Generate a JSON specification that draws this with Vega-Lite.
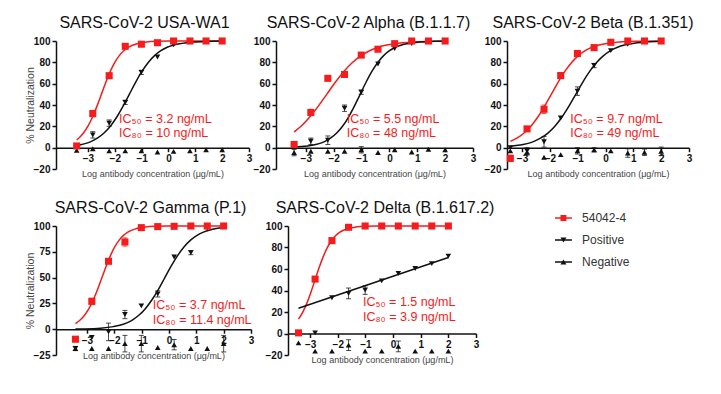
{
"$schema":"https://vega.github.io/schema/vega-lite/v6.json",
"padding":{"left":24,"top":15,"right":5,"bottom":5},
"config":{
 "view":{"stroke":null},
 "font":"Liberation Sans",
 "axis":{"grid":false,"domainColor":"#111","domainWidth":1.5,"tickColor":"#111","tickWidth":1.5,"tickSize":4,"labelFont":"Liberation Sans","labelFontSize":10,"labelFontWeight":"bold","labelColor":"#111","labelOverlap":false,"labelFlush":false,"titleFont":"Liberation Sans","titleFontWeight":"normal","titleColor":"#444"},
 "axisX":{"titleFontSize":9,"titlePadding":6,"labelPadding":2},
 "axisY":{"titleFontSize":10.5,"titleX":-21,"labelPadding":2},
 "title":{"font":"Liberation Sans","fontSize":16,"fontWeight":"normal","color":"#111","offset":5,"baseline":"alphabetic"}
},
"datasets":{
 "leg":[{"s":"54042-4"},{"s":"Positive"},{"s":"Negative"}],
 "pts":[
  {"p":"WA1","s":"54042-4","x":-3.42,"y":1.6},{"p":"WA1","s":"54042-4","x":-2.82,"y":32,"lo":29,"hi":35},{"p":"WA1","s":"54042-4","x":-2.21,"y":67.5},{"p":"WA1","s":"54042-4","x":-1.61,"y":95},{"p":"WA1","s":"54042-4","x":-1.01,"y":97},{"p":"WA1","s":"54042-4","x":-0.41,"y":98.4},{"p":"WA1","s":"54042-4","x":0.19,"y":100},{"p":"WA1","s":"54042-4","x":0.8,"y":100},{"p":"WA1","s":"54042-4","x":1.4,"y":100},{"p":"WA1","s":"54042-4","x":2.0,"y":100},
  {"p":"WA1","s":"Positive","x":-3.42,"y":1},{"p":"WA1","s":"Positive","x":-2.82,"y":12,"lo":9,"hi":15},{"p":"WA1","s":"Positive","x":-2.21,"y":23,"lo":20,"hi":26},{"p":"WA1","s":"Positive","x":-1.61,"y":42.5,"lo":40.5,"hi":44.5},{"p":"WA1","s":"Positive","x":-1.01,"y":70.6,"lo":68.6,"hi":72.6},{"p":"WA1","s":"Positive","x":-0.41,"y":85},{"p":"WA1","s":"Positive","x":0.19,"y":96.5},{"p":"WA1","s":"Positive","x":0.8,"y":99},{"p":"WA1","s":"Positive","x":1.4,"y":100},{"p":"WA1","s":"Positive","x":2.0,"y":100},
  {"p":"WA1","s":"Negative","x":-3.42,"y":-2.5},{"p":"WA1","s":"Negative","x":-2.82,"y":-1},{"p":"WA1","s":"Negative","x":-2.21,"y":-3},{"p":"WA1","s":"Negative","x":-1.61,"y":-3},{"p":"WA1","s":"Negative","x":-1.01,"y":-3},{"p":"WA1","s":"Negative","x":-0.41,"y":-4},{"p":"WA1","s":"Negative","x":0.19,"y":-3.5},{"p":"WA1","s":"Negative","x":0.8,"y":-3},{"p":"WA1","s":"Negative","x":1.4,"y":-2},{"p":"WA1","s":"Negative","x":2.0,"y":-2},

  {"p":"Alpha","s":"54042-4","x":-3.42,"y":3},{"p":"Alpha","s":"54042-4","x":-2.82,"y":33,"lo":30,"hi":36},{"p":"Alpha","s":"54042-4","x":-2.21,"y":65},{"p":"Alpha","s":"54042-4","x":-1.61,"y":68.6},{"p":"Alpha","s":"54042-4","x":-1.01,"y":86.8},{"p":"Alpha","s":"54042-4","x":-0.41,"y":92.3},{"p":"Alpha","s":"54042-4","x":0.19,"y":97.5},{"p":"Alpha","s":"54042-4","x":0.8,"y":100},{"p":"Alpha","s":"54042-4","x":1.4,"y":100},{"p":"Alpha","s":"54042-4","x":2.0,"y":100},
  {"p":"Alpha","s":"Positive","x":-3.42,"y":0.5},{"p":"Alpha","s":"Positive","x":-2.82,"y":6,"lo":3,"hi":9},{"p":"Alpha","s":"Positive","x":-2.21,"y":7,"lo":3,"hi":11},{"p":"Alpha","s":"Positive","x":-1.61,"y":37,"lo":34,"hi":40},{"p":"Alpha","s":"Positive","x":-1.01,"y":52,"lo":50,"hi":54},{"p":"Alpha","s":"Positive","x":-0.41,"y":78.5},{"p":"Alpha","s":"Positive","x":0.19,"y":93},{"p":"Alpha","s":"Positive","x":0.8,"y":97.5},{"p":"Alpha","s":"Positive","x":1.4,"y":100},{"p":"Alpha","s":"Positive","x":2.0,"y":100},
  {"p":"Alpha","s":"Negative","x":-3.42,"y":-4.6,"lo":-7.6,"hi":-1.6},{"p":"Alpha","s":"Negative","x":-2.82,"y":-3.4},{"p":"Alpha","s":"Negative","x":-2.21,"y":-3.4},{"p":"Alpha","s":"Negative","x":-1.61,"y":-3.4},{"p":"Alpha","s":"Negative","x":-1.01,"y":-2,"lo":-5,"hi":1},{"p":"Alpha","s":"Negative","x":-0.41,"y":-4.6},{"p":"Alpha","s":"Negative","x":0.19,"y":-2},{"p":"Alpha","s":"Negative","x":0.8,"y":-4},{"p":"Alpha","s":"Negative","x":1.4,"y":-1.5},{"p":"Alpha","s":"Negative","x":2.0,"y":-2},

  {"p":"Beta","s":"54042-4","x":-3.42,"y":-10,"lo":-13,"hi":-7},{"p":"Beta","s":"54042-4","x":-2.82,"y":17.6},{"p":"Beta","s":"54042-4","x":-2.21,"y":36,"lo":32,"hi":40},{"p":"Beta","s":"54042-4","x":-1.61,"y":67.6,"lo":65.6,"hi":69.6},{"p":"Beta","s":"54042-4","x":-1.01,"y":88.3},{"p":"Beta","s":"54042-4","x":-0.41,"y":93.8},{"p":"Beta","s":"54042-4","x":0.19,"y":98.8},{"p":"Beta","s":"54042-4","x":0.8,"y":100},{"p":"Beta","s":"54042-4","x":1.4,"y":100},{"p":"Beta","s":"54042-4","x":2.0,"y":100},
  {"p":"Beta","s":"Positive","x":-3.42,"y":0},{"p":"Beta","s":"Positive","x":-2.82,"y":-3,"lo":-6,"hi":0},{"p":"Beta","s":"Positive","x":-2.21,"y":5.5,"lo":0.5,"hi":10.5},{"p":"Beta","s":"Positive","x":-1.61,"y":27.8},{"p":"Beta","s":"Positive","x":-1.01,"y":53,"lo":49,"hi":57},{"p":"Beta","s":"Positive","x":-0.41,"y":77,"lo":75,"hi":79},{"p":"Beta","s":"Positive","x":0.19,"y":91},{"p":"Beta","s":"Positive","x":0.8,"y":97},{"p":"Beta","s":"Positive","x":1.4,"y":99.5},{"p":"Beta","s":"Positive","x":2.0,"y":100},
  {"p":"Beta","s":"Negative","x":-3.42,"y":-3},{"p":"Beta","s":"Negative","x":-2.82,"y":-4,"lo":-7,"hi":-1},{"p":"Beta","s":"Negative","x":-2.21,"y":-9},{"p":"Beta","s":"Negative","x":-1.61,"y":-6.5},{"p":"Beta","s":"Negative","x":-1.01,"y":-3,"lo":-6,"hi":0},{"p":"Beta","s":"Negative","x":-0.41,"y":-2,"lo":-4,"hi":0},{"p":"Beta","s":"Negative","x":0.19,"y":-3},{"p":"Beta","s":"Negative","x":0.8,"y":-5,"lo":-9,"hi":-1},{"p":"Beta","s":"Negative","x":1.4,"y":-4.3,"lo":-7.3,"hi":-1.3},{"p":"Beta","s":"Negative","x":2.0,"y":-3.4,"lo":-7.4,"hi":0.6},

  {"p":"Gamma","s":"54042-4","x":-3.42,"y":-9.7},{"p":"Gamma","s":"54042-4","x":-2.82,"y":27,"lo":24,"hi":30},{"p":"Gamma","s":"54042-4","x":-2.21,"y":65.8},{"p":"Gamma","s":"54042-4","x":-1.61,"y":84.5,"lo":80.5,"hi":88.5},{"p":"Gamma","s":"54042-4","x":-1.01,"y":98.4},{"p":"Gamma","s":"54042-4","x":-0.41,"y":99.4},{"p":"Gamma","s":"54042-4","x":0.19,"y":99.7},{"p":"Gamma","s":"54042-4","x":0.8,"y":100},{"p":"Gamma","s":"54042-4","x":1.4,"y":100},{"p":"Gamma","s":"54042-4","x":2.0,"y":100},
  {"p":"Gamma","s":"Positive","x":-3.42,"y":-18.7,"lo":-20.7,"hi":-16.7},{"p":"Gamma","s":"Positive","x":-2.82,"y":-8},{"p":"Gamma","s":"Positive","x":-2.21,"y":-2.6,"lo":-11.1,"hi":5.9},{"p":"Gamma","s":"Positive","x":-1.61,"y":14.2,"lo":10.2,"hi":18.2},{"p":"Gamma","s":"Positive","x":-1.01,"y":22.6},{"p":"Gamma","s":"Positive","x":-0.41,"y":34.2,"lo":31.2,"hi":37.2},{"p":"Gamma","s":"Positive","x":0.19,"y":70},{"p":"Gamma","s":"Positive","x":0.8,"y":74.2,"lo":72.2,"hi":76.2},{"p":"Gamma","s":"Positive","x":1.4,"y":98},{"p":"Gamma","s":"Positive","x":2.0,"y":99},
  {"p":"Gamma","s":"Negative","x":-3.42,"y":-18.7,"lo":-20.7,"hi":-16.7},{"p":"Gamma","s":"Negative","x":-2.82,"y":-18.7},{"p":"Gamma","s":"Negative","x":-2.21,"y":-18.7},{"p":"Gamma","s":"Negative","x":-1.61,"y":-14,"lo":-22,"hi":-6},{"p":"Gamma","s":"Negative","x":-1.01,"y":-14,"lo":-22,"hi":-6},{"p":"Gamma","s":"Negative","x":-0.41,"y":-17.8},{"p":"Gamma","s":"Negative","x":0.19,"y":-15,"lo":-20,"hi":-10},{"p":"Gamma","s":"Negative","x":0.8,"y":-18.7},{"p":"Gamma","s":"Negative","x":1.4,"y":-18.7},{"p":"Gamma","s":"Negative","x":2.0,"y":-14,"lo":-22,"hi":-6},

  {"p":"Delta","s":"54042-4","x":-3.42,"y":0.6},{"p":"Delta","s":"54042-4","x":-2.82,"y":50.6},{"p":"Delta","s":"54042-4","x":-2.21,"y":86.4},{"p":"Delta","s":"54042-4","x":-1.61,"y":98.8},{"p":"Delta","s":"54042-4","x":-1.01,"y":100},{"p":"Delta","s":"54042-4","x":-0.41,"y":100},{"p":"Delta","s":"54042-4","x":0.19,"y":100},{"p":"Delta","s":"54042-4","x":0.8,"y":100},{"p":"Delta","s":"54042-4","x":1.4,"y":100},{"p":"Delta","s":"54042-4","x":2.0,"y":100},
  {"p":"Delta","s":"Positive","x":-3.42,"y":0.6},{"p":"Delta","s":"Positive","x":-2.82,"y":0.6},{"p":"Delta","s":"Positive","x":-2.21,"y":33.3},{"p":"Delta","s":"Positive","x":-1.61,"y":37.3,"lo":32.3,"hi":42.3},{"p":"Delta","s":"Positive","x":-1.01,"y":40.4,"lo":36.4,"hi":44.4},{"p":"Delta","s":"Positive","x":-0.41,"y":49},{"p":"Delta","s":"Positive","x":0.19,"y":55.9},{"p":"Delta","s":"Positive","x":0.8,"y":60.5},{"p":"Delta","s":"Positive","x":1.4,"y":65},{"p":"Delta","s":"Positive","x":2.0,"y":72},
  {"p":"Delta","s":"Negative","x":-3.42,"y":-8.7},{"p":"Delta","s":"Negative","x":-2.82,"y":-16.4},{"p":"Delta","s":"Negative","x":-2.21,"y":-16.4},{"p":"Delta","s":"Negative","x":-1.61,"y":-10.8,"lo":-15.8,"hi":-5.8},{"p":"Delta","s":"Negative","x":-1.01,"y":-16.4},{"p":"Delta","s":"Negative","x":-0.41,"y":-16.4},{"p":"Delta","s":"Negative","x":0.19,"y":-12,"lo":-17,"hi":-7},{"p":"Delta","s":"Negative","x":0.8,"y":-16.4},{"p":"Delta","s":"Negative","x":1.4,"y":-16.4},{"p":"Delta","s":"Negative","x":2.0,"y":-16.4}
 ],
 "fit":[
  {"p":"WA1","s":"54042-4","x":-3.42,"y":7.3},{"p":"WA1","s":"54042-4","x":-3.333,"y":9.1},{"p":"WA1","s":"54042-4","x":-3.167,"y":13.7},{"p":"WA1","s":"54042-4","x":-3.0,"y":20.1},{"p":"WA1","s":"54042-4","x":-2.833,"y":28.5},{"p":"WA1","s":"54042-4","x":-2.667,"y":38.7},{"p":"WA1","s":"54042-4","x":-2.5,"y":50},{"p":"WA1","s":"54042-4","x":-2.333,"y":61.3},{"p":"WA1","s":"54042-4","x":-2.167,"y":71.5},{"p":"WA1","s":"54042-4","x":-2.0,"y":79.9},{"p":"WA1","s":"54042-4","x":-1.833,"y":86.3},{"p":"WA1","s":"54042-4","x":-1.667,"y":90.9},{"p":"WA1","s":"54042-4","x":-1.5,"y":94.1},{"p":"WA1","s":"54042-4","x":-1.167,"y":97.5},{"p":"WA1","s":"54042-4","x":-0.833,"y":99.0},{"p":"WA1","s":"54042-4","x":-0.417,"y":99.7},{"p":"WA1","s":"54042-4","x":0,"y":99.9},{"p":"WA1","s":"54042-4","x":2,"y":100},
  {"p":"WA1","s":"Positive","x":-3.42,"y":2.1},{"p":"WA1","s":"Positive","x":-3.342,"y":2.5},{"p":"WA1","s":"Positive","x":-3.107,"y":3.8},{"p":"WA1","s":"Positive","x":-2.872,"y":5.9},{"p":"WA1","s":"Positive","x":-2.636,"y":9.1},{"p":"WA1","s":"Positive","x":-2.401,"y":13.7},{"p":"WA1","s":"Positive","x":-2.166,"y":20.1},{"p":"WA1","s":"Positive","x":-1.931,"y":28.5},{"p":"WA1","s":"Positive","x":-1.695,"y":38.7},{"p":"WA1","s":"Positive","x":-1.46,"y":50},{"p":"WA1","s":"Positive","x":-1.225,"y":61.3},{"p":"WA1","s":"Positive","x":-0.989,"y":71.5},{"p":"WA1","s":"Positive","x":-0.754,"y":79.9},{"p":"WA1","s":"Positive","x":-0.519,"y":86.3},{"p":"WA1","s":"Positive","x":-0.284,"y":90.9},{"p":"WA1","s":"Positive","x":-0.048,"y":94.1},{"p":"WA1","s":"Positive","x":0.422,"y":97.5},{"p":"WA1","s":"Positive","x":0.893,"y":99.0},{"p":"WA1","s":"Positive","x":1.481,"y":99.7},{"p":"WA1","s":"Positive","x":2,"y":99.9},

  {"p":"Alpha","s":"54042-4","x":-3.42,"y":14.8},{"p":"Alpha","s":"54042-4","x":-3.173,"y":20.1},{"p":"Alpha","s":"54042-4","x":-2.865,"y":28.5},{"p":"Alpha","s":"54042-4","x":-2.558,"y":38.7},{"p":"Alpha","s":"54042-4","x":-2.25,"y":50},{"p":"Alpha","s":"54042-4","x":-1.942,"y":61.3},{"p":"Alpha","s":"54042-4","x":-1.635,"y":71.5},{"p":"Alpha","s":"54042-4","x":-1.327,"y":79.9},{"p":"Alpha","s":"54042-4","x":-1.019,"y":86.3},{"p":"Alpha","s":"54042-4","x":-0.712,"y":90.9},{"p":"Alpha","s":"54042-4","x":-0.404,"y":94.1},{"p":"Alpha","s":"54042-4","x":-0.096,"y":96.2},{"p":"Alpha","s":"54042-4","x":0.212,"y":97.5},{"p":"Alpha","s":"54042-4","x":0.827,"y":99.0},{"p":"Alpha","s":"54042-4","x":1.596,"y":99.7},{"p":"Alpha","s":"54042-4","x":2,"y":99.8},
  {"p":"Alpha","s":"Positive","x":-3.42,"y":0.6},{"p":"Alpha","s":"Positive","x":-3.155,"y":1.0},{"p":"Alpha","s":"Positive","x":-2.734,"y":2.5},{"p":"Alpha","s":"Positive","x":-2.524,"y":3.8},{"p":"Alpha","s":"Positive","x":-2.313,"y":5.9},{"p":"Alpha","s":"Positive","x":-2.103,"y":9.1},{"p":"Alpha","s":"Positive","x":-1.892,"y":13.7},{"p":"Alpha","s":"Positive","x":-1.682,"y":20.1},{"p":"Alpha","s":"Positive","x":-1.471,"y":28.5},{"p":"Alpha","s":"Positive","x":-1.261,"y":38.7},{"p":"Alpha","s":"Positive","x":-1.05,"y":50},{"p":"Alpha","s":"Positive","x":-0.839,"y":61.3},{"p":"Alpha","s":"Positive","x":-0.629,"y":71.5},{"p":"Alpha","s":"Positive","x":-0.418,"y":79.9},{"p":"Alpha","s":"Positive","x":-0.208,"y":86.3},{"p":"Alpha","s":"Positive","x":0.003,"y":90.9},{"p":"Alpha","s":"Positive","x":0.213,"y":94.1},{"p":"Alpha","s":"Positive","x":0.634,"y":97.5},{"p":"Alpha","s":"Positive","x":1.055,"y":99.0},{"p":"Alpha","s":"Positive","x":1.582,"y":99.7},{"p":"Alpha","s":"Positive","x":2,"y":99.9},

  {"p":"Beta","s":"54042-4","x":-3.42,"y":5.9},{"p":"Beta","s":"54042-4","x":-3.17,"y":9.1},{"p":"Beta","s":"54042-4","x":-2.926,"y":13.7},{"p":"Beta","s":"54042-4","x":-2.682,"y":20.1},{"p":"Beta","s":"54042-4","x":-2.438,"y":28.5},{"p":"Beta","s":"54042-4","x":-2.194,"y":38.7},{"p":"Beta","s":"54042-4","x":-1.95,"y":50},{"p":"Beta","s":"54042-4","x":-1.706,"y":61.3},{"p":"Beta","s":"54042-4","x":-1.462,"y":71.5},{"p":"Beta","s":"54042-4","x":-1.218,"y":79.9},{"p":"Beta","s":"54042-4","x":-0.974,"y":86.3},{"p":"Beta","s":"54042-4","x":-0.73,"y":90.9},{"p":"Beta","s":"54042-4","x":-0.487,"y":94.1},{"p":"Beta","s":"54042-4","x":-0.243,"y":96.2},{"p":"Beta","s":"54042-4","x":0.001,"y":97.5},{"p":"Beta","s":"54042-4","x":0.489,"y":99.0},{"p":"Beta","s":"54042-4","x":1.099,"y":99.7},{"p":"Beta","s":"54042-4","x":2,"y":99.9},
  {"p":"Beta","s":"Positive","x":-3.42,"y":1.3},{"p":"Beta","s":"Positive","x":-3.07,"y":2.5},{"p":"Beta","s":"Positive","x":-2.82,"y":3.8},{"p":"Beta","s":"Positive","x":-2.57,"y":5.9},{"p":"Beta","s":"Positive","x":-2.32,"y":9.1},{"p":"Beta","s":"Positive","x":-2.07,"y":13.7},{"p":"Beta","s":"Positive","x":-1.82,"y":20.1},{"p":"Beta","s":"Positive","x":-1.57,"y":28.5},{"p":"Beta","s":"Positive","x":-1.32,"y":38.7},{"p":"Beta","s":"Positive","x":-1.07,"y":50},{"p":"Beta","s":"Positive","x":-0.82,"y":61.3},{"p":"Beta","s":"Positive","x":-0.57,"y":71.5},{"p":"Beta","s":"Positive","x":-0.32,"y":79.9},{"p":"Beta","s":"Positive","x":-0.07,"y":86.3},{"p":"Beta","s":"Positive","x":0.18,"y":90.9},{"p":"Beta","s":"Positive","x":0.43,"y":94.1},{"p":"Beta","s":"Positive","x":0.68,"y":96.2},{"p":"Beta","s":"Positive","x":0.93,"y":97.5},{"p":"Beta","s":"Positive","x":1.43,"y":99.0},{"p":"Beta","s":"Positive","x":2,"y":99.7},

  {"p":"Gamma","s":"54042-4","x":-3.42,"y":5.5},{"p":"Gamma","s":"54042-4","x":-3.237,"y":9.1},{"p":"Gamma","s":"54042-4","x":-3.08,"y":13.7},{"p":"Gamma","s":"54042-4","x":-2.922,"y":20.1},{"p":"Gamma","s":"54042-4","x":-2.765,"y":28.5},{"p":"Gamma","s":"54042-4","x":-2.607,"y":38.7},{"p":"Gamma","s":"54042-4","x":-2.45,"y":50},{"p":"Gamma","s":"54042-4","x":-2.293,"y":61.3},{"p":"Gamma","s":"54042-4","x":-2.135,"y":71.5},{"p":"Gamma","s":"54042-4","x":-1.978,"y":79.9},{"p":"Gamma","s":"54042-4","x":-1.82,"y":86.3},{"p":"Gamma","s":"54042-4","x":-1.663,"y":90.9},{"p":"Gamma","s":"54042-4","x":-1.505,"y":94.1},{"p":"Gamma","s":"54042-4","x":-1.19,"y":97.5},{"p":"Gamma","s":"54042-4","x":-0.875,"y":99.0},{"p":"Gamma","s":"54042-4","x":-0.481,"y":99.7},{"p":"Gamma","s":"54042-4","x":-0.088,"y":99.9},{"p":"Gamma","s":"54042-4","x":2,"y":100},
  {"p":"Gamma","s":"Positive","x":-3.42,"y":0.2},{"p":"Gamma","s":"Positive","x":-3.091,"y":0.3},{"p":"Gamma","s":"Positive","x":-2.503,"y":1.0},{"p":"Gamma","s":"Positive","x":-2.032,"y":2.5},{"p":"Gamma","s":"Positive","x":-1.797,"y":3.8},{"p":"Gamma","s":"Positive","x":-1.562,"y":5.9},{"p":"Gamma","s":"Positive","x":-1.326,"y":9.1},{"p":"Gamma","s":"Positive","x":-1.091,"y":13.7},{"p":"Gamma","s":"Positive","x":-0.856,"y":20.1},{"p":"Gamma","s":"Positive","x":-0.621,"y":28.5},{"p":"Gamma","s":"Positive","x":-0.385,"y":38.7},{"p":"Gamma","s":"Positive","x":-0.15,"y":50},{"p":"Gamma","s":"Positive","x":0.085,"y":61.3},{"p":"Gamma","s":"Positive","x":0.321,"y":71.5},{"p":"Gamma","s":"Positive","x":0.556,"y":79.9},{"p":"Gamma","s":"Positive","x":0.791,"y":86.3},{"p":"Gamma","s":"Positive","x":1.026,"y":90.9},{"p":"Gamma","s":"Positive","x":1.262,"y":94.1},{"p":"Gamma","s":"Positive","x":1.497,"y":96.2},{"p":"Gamma","s":"Positive","x":1.732,"y":97.5},{"p":"Gamma","s":"Positive","x":2,"y":98.5},

  {"p":"Delta","s":"54042-4","x":-3.42,"y":13.3},{"p":"Delta","s":"54042-4","x":-3.261,"y":20.1},{"p":"Delta","s":"54042-4","x":-3.114,"y":28.5},{"p":"Delta","s":"54042-4","x":-2.967,"y":38.7},{"p":"Delta","s":"54042-4","x":-2.82,"y":50},{"p":"Delta","s":"54042-4","x":-2.673,"y":61.3},{"p":"Delta","s":"54042-4","x":-2.526,"y":71.5},{"p":"Delta","s":"54042-4","x":-2.379,"y":79.9},{"p":"Delta","s":"54042-4","x":-2.232,"y":86.3},{"p":"Delta","s":"54042-4","x":-2.085,"y":90.9},{"p":"Delta","s":"54042-4","x":-1.938,"y":94.1},{"p":"Delta","s":"54042-4","x":-1.644,"y":97.5},{"p":"Delta","s":"54042-4","x":-1.349,"y":99.0},{"p":"Delta","s":"54042-4","x":-0.982,"y":99.7},{"p":"Delta","s":"54042-4","x":-0.614,"y":99.9},{"p":"Delta","s":"54042-4","x":2,"y":100},
  {"p":"Delta","s":"Positive","x":-3.42,"y":23.5},{"p":"Delta","s":"Positive","x":2,"y":70.7}
 ],
 "ann":[
  {"p":"WA1","x":-1.84,"y":26.5,"t":"IC₅₀ = 3.2 ng/mL"},{"p":"WA1","x":-1.84,"y":13.8,"t":"IC₈₀ = 10 ng/mL"},
  {"p":"Alpha","x":-1.53,"y":26.5,"t":"IC₅₀ = 5.5 ng/mL"},{"p":"Alpha","x":-1.53,"y":13.8,"t":"IC₈₀ = 48 ng/mL"},
  {"p":"Beta","x":-1.27,"y":26.8,"t":"IC₅₀ = 9.7 ng/mL"},{"p":"Beta","x":-1.27,"y":13.6,"t":"IC₈₀ = 49 ng/mL"},
  {"p":"Gamma","x":-0.59,"y":23,"t":"IC₅₀ = 3.7 ng/mL"},{"p":"Gamma","x":-0.59,"y":9,"t":"IC₈₀ = 11.4 ng/mL"},
  {"p":"Delta","x":-1.09,"y":29.6,"t":"IC₅₀ = 1.5 ng/mL"},{"p":"Delta","x":-1.09,"y":15.8,"t":"IC₈₀ = 3.9 ng/mL"}
 ]
},
"spacing":21,
"vconcat":[
 {"spacing":8,"hconcat":[
  {"spacing":1,"hconcat":[
   {"width":193,"height":128,"title":{"text":"SARS-CoV-2 USA-WA1","dx":-8},
    "encoding":{"x":{"field":"x","type":"quantitative","scale":{"domain":[-4.19,3],"nice":false,"zero":false},"axis":{"values":[-3,-2,-1,0,1,2,3],"offset":-21.33},"title":"Log antibody concentration (μg/mL)"},
                "y":{"field":"y","type":"quantitative","scale":{"domain":[-20,100],"nice":false,"zero":false},"axis":{"values":[-20,0,20,40,60,80,100]},"title":"% Neutralization"}},
    "layer":[
     {"data":{"name":"fit"},"transform":[{"filter":"datum.p=='WA1'"}],"mark":{"type":"line","interpolate":"monotone","strokeWidth":1.5},"encoding":{"color":{"field":"s","type":"nominal","scale":{"domain":["54042-4","Positive","Negative"],"range":["#f41c1c","#111111","#111111"]},"legend":null}}},
     {"data":{"name":"pts"},"transform":[{"filter":"datum.p=='WA1' && isValid(datum.lo)"}],"mark":{"type":"errorbar","ticks":true,"opacity":0.75},"encoding":{"y":{"field":"lo","type":"quantitative","scale":{"domain":[-20,100],"nice":false,"zero":false},"title":"% Neutralization"},"y2":{"field":"hi"},"color":{"field":"s","type":"nominal","legend":null}}},
     {"data":{"name":"pts"},"transform":[{"filter":"datum.p=='WA1' && datum.s=='Negative'"}],"mark":{"type":"point","shape":"triangle-up","filled":true,"size":32,"color":"#111111","opacity":1}},
     {"data":{"name":"pts"},"transform":[{"filter":"datum.p=='WA1' && datum.s=='Positive'"}],"mark":{"type":"point","shape":"triangle-down","filled":true,"size":32,"color":"#111111","opacity":1}},
     {"data":{"name":"pts"},"transform":[{"filter":"datum.p=='WA1' && datum.s=='54042-4'"}],"mark":{"type":"point","shape":"square","filled":true,"size":50,"color":"#f41c1c","opacity":1}},
     {"data":{"name":"ann"},"transform":[{"filter":"datum.p=='WA1'"}],"mark":{"type":"text","align":"left","baseline":"middle","fontSize":12.5,"color":"#f41c1c","font":"Liberation Sans"},"encoding":{"text":{"field":"t"}}}
    ]},
   {"width":197,"height":128,"title":{"text":"SARS-CoV-2 Alpha (B.1.1.7)","dx":-6},
    "encoding":{"x":{"field":"x","type":"quantitative","scale":{"domain":[-4.07,3],"nice":false,"zero":false},"axis":{"values":[-3,-2,-1,0,1,2,3],"offset":-21.33},"title":"Log antibody concentration (μg/mL)"},
                "y":{"field":"y","type":"quantitative","scale":{"domain":[-20,100],"nice":false,"zero":false},"axis":{"values":[-20,0,20,40,60,80,100]},"title":null}},
    "layer":[
     {"data":{"name":"fit"},"transform":[{"filter":"datum.p=='Alpha'"}],"mark":{"type":"line","interpolate":"monotone","strokeWidth":1.5},"encoding":{"color":{"field":"s","type":"nominal","legend":null}}},
     {"data":{"name":"pts"},"transform":[{"filter":"datum.p=='Alpha' && isValid(datum.lo)"}],"mark":{"type":"errorbar","ticks":true,"opacity":0.75},"encoding":{"y":{"field":"lo","type":"quantitative","scale":{"domain":[-20,100],"nice":false,"zero":false},"title":null},"y2":{"field":"hi"},"color":{"field":"s","type":"nominal","legend":null}}},
     {"data":{"name":"pts"},"transform":[{"filter":"datum.p=='Alpha' && datum.s=='Negative'"}],"mark":{"type":"point","shape":"triangle-up","filled":true,"size":32,"color":"#111111","opacity":1}},
     {"data":{"name":"pts"},"transform":[{"filter":"datum.p=='Alpha' && datum.s=='Positive'"}],"mark":{"type":"point","shape":"triangle-down","filled":true,"size":32,"color":"#111111","opacity":1}},
     {"data":{"name":"pts"},"transform":[{"filter":"datum.p=='Alpha' && datum.s=='54042-4'"}],"mark":{"type":"point","shape":"square","filled":true,"size":50,"color":"#f41c1c","opacity":1}},
     {"data":{"name":"ann"},"transform":[{"filter":"datum.p=='Alpha'"}],"mark":{"type":"text","align":"left","baseline":"middle","fontSize":12.5,"color":"#f41c1c","font":"Liberation Sans"},"encoding":{"text":{"field":"t"}}}
    ]}
  ]},
  {"width":182,"height":128,"title":{"text":"SARS-CoV-2 Beta (B.1.351)","dx":-5},
    "encoding":{"x":{"field":"x","type":"quantitative","scale":{"domain":[-3.54,3],"nice":false,"zero":false},"axis":{"values":[-3,-2,-1,0,1,2,3],"offset":-21.33},"title":"Log antibody concentration (μg/mL)"},
                "y":{"field":"y","type":"quantitative","scale":{"domain":[-20,100],"nice":false,"zero":false},"axis":{"values":[-20,0,20,40,60,80,100]},"title":null}},
    "layer":[
     {"data":{"name":"fit"},"transform":[{"filter":"datum.p=='Beta'"}],"mark":{"type":"line","interpolate":"monotone","strokeWidth":1.5},"encoding":{"color":{"field":"s","type":"nominal","legend":null}}},
     {"data":{"name":"pts"},"transform":[{"filter":"datum.p=='Beta' && isValid(datum.lo)"}],"mark":{"type":"errorbar","ticks":true,"opacity":0.75},"encoding":{"y":{"field":"lo","type":"quantitative","scale":{"domain":[-20,100],"nice":false,"zero":false},"title":null},"y2":{"field":"hi"},"color":{"field":"s","type":"nominal","legend":null}}},
     {"data":{"name":"pts"},"transform":[{"filter":"datum.p=='Beta' && datum.s=='Negative'"}],"mark":{"type":"point","shape":"triangle-up","filled":true,"size":32,"color":"#111111","opacity":1}},
     {"data":{"name":"pts"},"transform":[{"filter":"datum.p=='Beta' && datum.s=='Positive'"}],"mark":{"type":"point","shape":"triangle-down","filled":true,"size":32,"color":"#111111","opacity":1}},
     {"data":{"name":"pts"},"transform":[{"filter":"datum.p=='Beta' && datum.s=='54042-4'"}],"mark":{"type":"point","shape":"square","filled":true,"size":50,"color":"#f41c1c","opacity":1}},
     {"data":{"name":"ann"},"transform":[{"filter":"datum.p=='Beta'"}],"mark":{"type":"text","align":"left","baseline":"middle","fontSize":12.5,"color":"#f41c1c","font":"Liberation Sans"},"encoding":{"text":{"field":"t"}}}
    ]}
 ]},
 {"spacing":59,"hconcat":[
  {"spacing":11,"hconcat":[
  {"width":195,"height":129,"title":{"text":"SARS-CoV-2 Gamma (P.1)","dx":-3},
    "encoding":{"x":{"field":"x","type":"quantitative","scale":{"domain":[-4.13,3],"nice":false,"zero":false},"axis":{"values":[-3,-2,-1,0,1,2,3],"offset":-25.8},"title":"Log antibody concentration (μg/mL)"},
                "y":{"field":"y","type":"quantitative","scale":{"domain":[-25,100],"nice":false,"zero":false},"axis":{"values":[-25,0,25,50,75,100]},"title":"% Neutralization"}},
    "layer":[
     {"data":{"name":"fit"},"transform":[{"filter":"datum.p=='Gamma'"}],"mark":{"type":"line","interpolate":"monotone","strokeWidth":1.5},"encoding":{"color":{"field":"s","type":"nominal","legend":null}}},
     {"data":{"name":"pts"},"transform":[{"filter":"datum.p=='Gamma' && isValid(datum.lo)"}],"mark":{"type":"errorbar","ticks":true,"opacity":0.75},"encoding":{"y":{"field":"lo","type":"quantitative","scale":{"domain":[-25,100],"nice":false,"zero":false},"title":"% Neutralization"},"y2":{"field":"hi"},"color":{"field":"s","type":"nominal","legend":null}}},
     {"data":{"name":"pts"},"transform":[{"filter":"datum.p=='Gamma' && datum.s=='Negative'"}],"mark":{"type":"point","shape":"triangle-up","filled":true,"size":32,"color":"#111111","opacity":1}},
     {"data":{"name":"pts"},"transform":[{"filter":"datum.p=='Gamma' && datum.s=='Positive'"}],"mark":{"type":"point","shape":"triangle-down","filled":true,"size":32,"color":"#111111","opacity":1}},
     {"data":{"name":"pts"},"transform":[{"filter":"datum.p=='Gamma' && datum.s=='54042-4'"}],"mark":{"type":"point","shape":"square","filled":true,"size":50,"color":"#f41c1c","opacity":1}},
     {"data":{"name":"ann"},"transform":[{"filter":"datum.p=='Gamma'"}],"mark":{"type":"text","align":"left","baseline":"middle","fontSize":12.5,"color":"#f41c1c","font":"Liberation Sans"},"encoding":{"text":{"field":"t"}}}
    ]},
  {"width":188,"height":129,"title":{"text":"SARS-CoV-2 Delta (B.1.617.2)","dx":3},
    "encoding":{"x":{"field":"x","type":"quantitative","scale":{"domain":[-3.8,3],"nice":false,"zero":false},"axis":{"values":[-3,-2,-1,0,1,2,3],"offset":-21.5},"title":"Log antibody concentration (μg/mL)"},
                "y":{"field":"y","type":"quantitative","scale":{"domain":[-20,100],"nice":false,"zero":false},"axis":{"values":[-20,0,20,40,60,80,100]},"title":null}},
    "layer":[
     {"data":{"name":"fit"},"transform":[{"filter":"datum.p=='Delta'"}],"mark":{"type":"line","interpolate":"monotone","strokeWidth":1.5},"encoding":{"color":{"field":"s","type":"nominal","legend":null}}},
     {"data":{"name":"pts"},"transform":[{"filter":"datum.p=='Delta' && isValid(datum.lo)"}],"mark":{"type":"errorbar","ticks":true,"opacity":0.75},"encoding":{"y":{"field":"lo","type":"quantitative","scale":{"domain":[-20,100],"nice":false,"zero":false},"title":null},"y2":{"field":"hi"},"color":{"field":"s","type":"nominal","legend":null}}},
     {"data":{"name":"pts"},"transform":[{"filter":"datum.p=='Delta' && datum.s=='Negative'"}],"mark":{"type":"point","shape":"triangle-up","filled":true,"size":32,"color":"#111111","opacity":1}},
     {"data":{"name":"pts"},"transform":[{"filter":"datum.p=='Delta' && datum.s=='Positive'"}],"mark":{"type":"point","shape":"triangle-down","filled":true,"size":32,"color":"#111111","opacity":1}},
     {"data":{"name":"pts"},"transform":[{"filter":"datum.p=='Delta' && datum.s=='54042-4'"}],"mark":{"type":"point","shape":"square","filled":true,"size":50,"color":"#f41c1c","opacity":1}},
     {"data":{"name":"ann"},"transform":[{"filter":"datum.p=='Delta'"}],"mark":{"type":"text","align":"left","baseline":"middle","fontSize":12.5,"color":"#f41c1c","font":"Liberation Sans"},"encoding":{"text":{"field":"t"}}}
    ]}
  ]},
  {"width":110,"height":88,"data":{"name":"leg"},
   "encoding":{"y":{"field":"s","type":"nominal","scale":{"type":"point","domain":["54042-4","Positive","Negative"],"padding":1},"axis":null}},
   "layer":[
    {"mark":{"type":"rule","strokeWidth":1.5,"yOffset":-30},"encoding":{"x":{"datum":0,"type":"quantitative","scale":{"domain":[0,6.5],"nice":false,"zero":false},"axis":null},"x2":{"datum":1},"color":{"field":"s","type":"nominal","legend":null}}},
    {"mark":{"type":"point","filled":true,"size":36,"opacity":1,"yOffset":-30},"encoding":{"x":{"datum":0.5,"type":"quantitative"},"color":{"field":"s","type":"nominal","legend":null},"shape":{"field":"s","type":"nominal","scale":{"domain":["54042-4","Positive","Negative"],"range":["square","triangle-down","triangle-up"]},"legend":null}}},
    {"mark":{"type":"text","align":"left","baseline":"middle","fontSize":12,"color":"#333","font":"Liberation Sans","yOffset":-30},"encoding":{"x":{"datum":1.6,"type":"quantitative"},"text":{"field":"s"}}}
   ]}
 ]}
]
}
